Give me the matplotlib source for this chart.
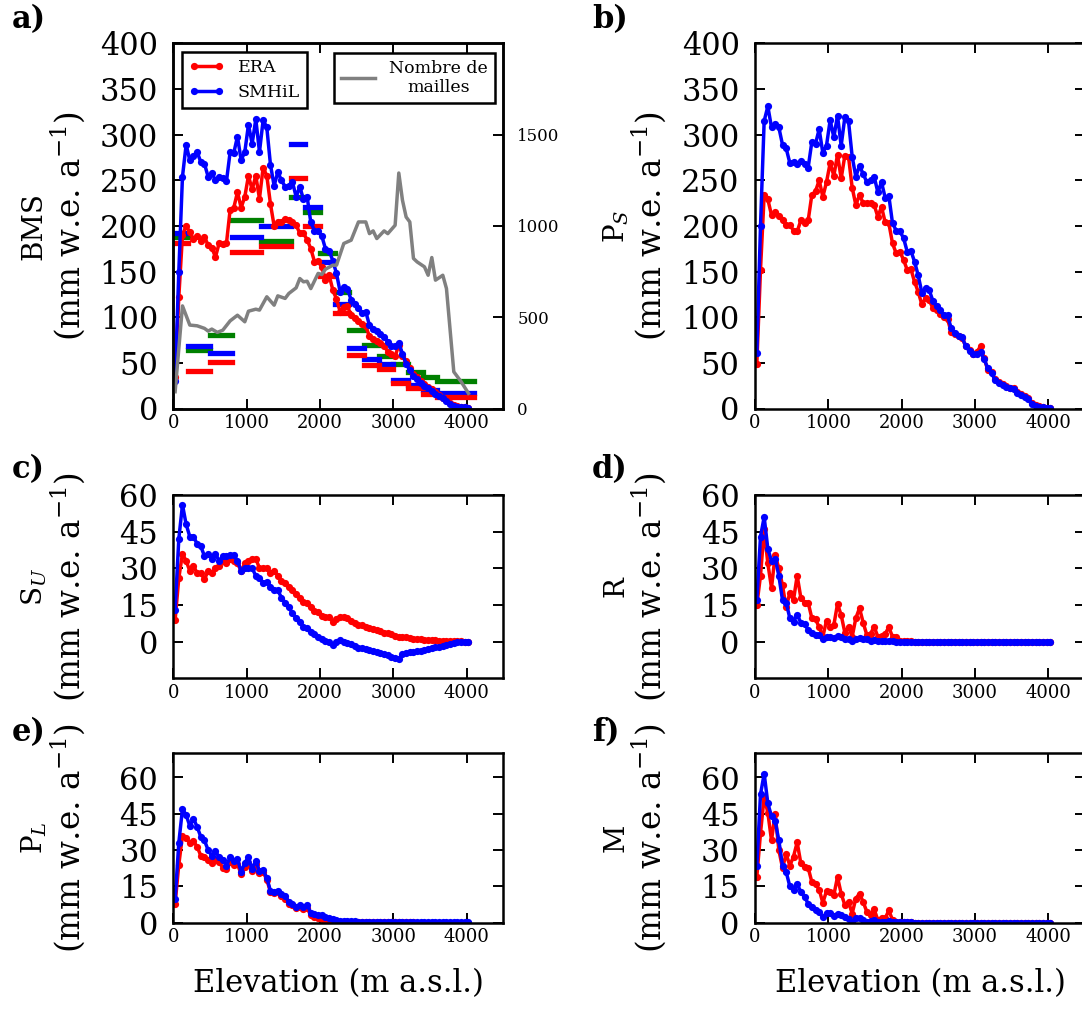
import numpy as np
import matplotlib
matplotlib.use("Agg")
import matplotlib.pyplot as plt

# elevation bin centres (m a.s.l.)
elev = np.arange(25, 4050, 50)

bms_smhil = [30, 150, 254, 289, 272, 277, 281, 270, 268, 254,
             258, 250, 254, 253, 249, 281, 280, 298, 272, 281,
             311, 290, 317, 281, 316, 308, 267, 244, 259, 250,
             243, 244, 248, 232, 243, 229, 232, 204, 195, 194,
             189, 175, 173, 162, 148, 128, 133, 131, 119, 114,
             110, 105, 106, 91, 87, 85, 82, 78, 73, 69,
             68, 72, 60, 49, 42, 36, 32, 28, 25, 23,
             19, 16, 14, 11, 8, 5, 3, 2, 2, 1.5, 1]
bms_era = [34, 122, 190, 200, 193, 186, 189, 184, 188, 179,
           176, 166, 181, 180, 181, 218, 220, 237, 220, 232,
           255, 240, 255, 230, 264, 255, 224, 200, 204, 204,
           208, 207, 204, 201, 192, 192, 185, 175, 161, 162,
           155, 141, 146, 130, 120, 106, 111, 112, 102, 99,
           96, 93, 90, 79, 76, 74, 72, 69, 62, 60,
           57, 70, 58, 52, 44, 38, 34, 30, 27, 24,
           21, 18, 15, 12, 9, 6, 4, 3, 2, 1.5, 1]

ps_smhil = [61, 200, 315, 331, 308, 312, 308, 289, 285, 269,
            270, 268, 271, 268, 264, 292, 290, 306, 280, 288,
            316, 297, 321, 288, 319, 315, 276, 254, 266, 257,
            248, 250, 254, 237, 248, 231, 233, 203, 195, 194,
            187, 172, 173, 161, 146, 127, 132, 130, 118, 112,
            108, 102, 102, 88, 83, 79, 78, 68, 63, 60,
            60, 62, 54, 44, 39, 31, 28, 26, 24, 22,
            21, 17, 15, 13, 10, 5, 3, 2, 1.5, 1, 0.5]
ps_era = [49, 152, 234, 229, 212, 215, 211, 206, 201, 201,
          195, 194, 206, 203, 206, 234, 238, 250, 232, 248,
          269, 255, 278, 252, 277, 276, 242, 223, 234, 225,
          225, 225, 223, 210, 221, 204, 203, 181, 170, 172,
          163, 152, 153, 139, 128, 114, 121, 119, 110, 108,
          104, 100, 98, 84, 82, 79, 77, 68, 64, 60,
          62, 68, 55, 42, 40, 32, 29, 27, 25, 23,
          22, 18, 16, 14, 11, 6, 4, 2.5, 2, 1, 0.5]

su_smhil = [13, 42, 56, 48, 43, 43, 40, 39, 35, 36,
            34, 36, 33, 35, 35, 35.5, 35.5, 33, 29, 30,
            30, 30, 27, 26, 24, 24.5, 22.5, 21, 21, 18,
            16, 14, 11.6, 9.6, 8.2, 6.1, 5.5, 4.1, 3.2, 2,
            1, 0.4, 0, -1.4, 0, 0.7, 0, -0.4, -0.9, -1.8,
            -2.4, -2.8, -3.1, -3.4, -3.8, -4.2, -4.8, -5.2, -5.6, -6.1,
            -6.5, -7, -5, -4.5, -4.2, -4.3, -4, -3.8, -3.4, -3.1,
            -2.7, -2.3, -2, -1.6, -1.4, -1, -0.4, -0.3, -0.1, -0.1, 0]
su_era = [9, 26, 36, 33, 29, 31, 28, 28, 25.5, 29,
          28, 30, 31, 33, 32, 34, 33, 32, 29, 32,
          33, 34, 34, 30, 30, 30, 28, 29, 27, 25,
          24, 22.5, 21, 19.5, 18, 16.4, 15.7, 14, 12.7, 12,
          10.5, 10.2, 10, 8.2, 9.2, 10, 10, 9.6, 8.6, 7.8,
          6.8, 6.8, 6.1, 5.7, 5.1, 4.8, 4.4, 3.7, 3.4, 3,
          2.5, 2, 2, 1.8, 1.4, 1.1, 1, 1, 0.7, 0.7,
          0.7, 0.6, 0.4, 0.4, 0.3, 0.3, 0.2, 0.1, 0.1, 0, 0]

r_smhil = [17, 43, 51, 38, 33, 34, 27, 17, 16, 9.6,
           8.2, 11, 7.8, 7.2, 4.8, 3.7, 2.7, 2.7, 1, 2,
           2, 1.4, 2.5, 2, 1.1, 1, 0.1, 1, 1.4, 1.1,
           1, 0.3, 0.7, 0.1, 0.4, 0.4, 0.4, 0.1, 0, 0,
           0, 0, 0, 0, 0, 0, 0, 0, 0, 0,
           0, 0, 0, 0, 0, 0, 0, 0, 0, 0,
           0, 0, 0, 0, 0, 0, 0, 0, 0, 0,
           0, 0, 0, 0, 0, 0, 0, 0, 0, 0, 0]
r_era = [15, 27, 46, 32, 22, 35.5, 30, 23, 14, 20,
         17, 27, 18, 16, 16, 9.6, 9.2, 5.9, 2, 8.6,
         6.1, 6.8, 15.4, 10.9, 3.7, 6.1, 2, 9.6, 13.7, 7.8,
         2.7, 3.2, 6.1, 2, 2.3, 3.2, 5.9, 2, 1.8, 0.4,
         0.2, 0.1, 0.1, 0, 0, 0, 0, 0, 0, 0,
         0, 0, 0, 0, 0, 0, 0, 0, 0, 0,
         0, 0, 0, 0, 0, 0, 0, 0, 0, 0,
         0, 0, 0, 0, 0, 0, 0, 0, 0, 0, 0]

pl_smhil = [9.6, 33, 47, 44.5, 40, 43, 39.6, 35.5, 34, 30,
            27.7, 29.5, 27, 26, 23.6, 27, 25.4, 26.4, 21, 24.6,
            27.3, 22, 25.7, 21.3, 21.6, 18.6, 13.1, 12.7, 13.1, 11.8,
            10.9, 8.6, 7.9, 6.6, 7.3, 6.6, 7.3, 4.1, 3.6, 3.2,
            3.2, 2.2, 1.8, 1.4, 1.1, 0.8, 0.8, 0.6, 0.5, 0.5,
            0.4, 0.4, 0.4, 0.3, 0.3, 0.3, 0.3, 0.3, 0.3, 0.2,
            0.2, 0.2, 0.2, 0.2, 0.2, 0.2, 0.2, 0.2, 0.2, 0.2,
            0.2, 0.2, 0.2, 0.2, 0.2, 0.2, 0.2, 0.2, 0.2, 0.2, 0.2]
pl_era = [7.9, 24, 36, 35, 33, 33.6, 31.4, 27.7, 27, 26,
          24.6, 26, 25, 22.7, 22.3, 25, 24, 24.3, 20, 23.2,
          24.6, 21.3, 24.3, 20.5, 20.9, 17.8, 12.7, 12.3, 12.7, 10.9,
          10, 7.9, 7.3, 5.9, 6.6, 5.5, 5.9, 3.2, 2.5, 1.8,
          1.4, 1.1, 0.4, 0.3, 0.3, 0.2, 0.2, 0.2, 0.1, 0.1,
          0.1, 0.1, 0.1, 0.1, 0.1, 0.1, 0.1, 0.1, 0.1, 0.1,
          0.1, 0.1, 0.1, 0.1, 0.1, 0.1, 0, 0, 0, 0,
          0, 0, 0, 0, 0, 0, 0, 0, 0, 0, 0]

m_smhil = [23.6, 53, 61.6, 49.3, 44, 42, 34, 23.6, 21, 15,
           13.7, 16, 12.7, 10.7, 7.9, 6.6, 5.2, 4.5, 2.2, 4.1,
           4.1, 2.7, 3.8, 3.2, 2.2, 1.4, 0.4, 1.8, 1.8, 1.1,
           0.4, 0.8, 1.1, 0.4, 0.4, 0.4, 0.6, 0.3, 0.1, 0.1,
           0.1, 0.1, 0.1, 0, 0, 0, 0, 0, 0, 0,
           0, 0, 0, 0, 0, 0, 0, 0, 0, 0,
           0, 0, 0, 0, 0, 0, 0, 0, 0, 0,
           0, 0, 0, 0, 0, 0, 0, 0, 0, 0, 0]
m_era = [19, 37, 52, 45.5, 34, 45, 30, 22.7, 28.4, 23.6,
         27.3, 33.2, 24.6, 23.2, 22.7, 16.8, 15.9, 13.7, 8.2, 13.1,
         12.7, 11.4, 18.9, 12, 7.3, 8.6, 3.8, 10, 12, 8.6,
         4.5, 3.2, 5.5, 1.1, 1.8, 1.8, 5.1, 1.1, 0.4, 0.2,
         0.1, 0.1, 0.1, 0, 0, 0, 0, 0, 0, 0,
         0, 0, 0, 0, 0, 0, 0, 0, 0, 0,
         0, 0, 0, 0, 0, 0, 0, 0, 0, 0,
         0, 0, 0, 0, 0, 0, 0, 0, 0, 0, 0]

# number of grid cells per band (right axis of panel a)
cells_elev = [25, 125, 225, 325, 425, 475, 525, 600, 675, 775,
              875, 975, 1025, 1125, 1175, 1275, 1375, 1425, 1525, 1575,
              1675, 1725, 1775, 1825, 1875, 1975, 2025, 2075, 2175, 2225,
              2325, 2425, 2525, 2625, 2675, 2725, 2775, 2875, 2925, 3025,
              3075, 3125, 3175, 3225, 3275, 3325, 3425, 3475, 3525, 3575,
              3675, 3725, 3825, 3925, 4025]
cells = [92, 562, 457, 453, 439, 424, 435, 417, 429, 480,
         511, 475, 533, 544, 539, 612, 566, 617, 603, 630,
         661, 712, 694, 697, 657, 740, 734, 763, 785, 785,
         904, 922, 1022, 1022, 958, 973, 931, 973, 958, 1004,
         1290, 1141, 1049, 1022, 822, 803, 776, 730, 827, 703,
         730, 657, 201, 147, 83]

# band-averaged balances (horizontal bars in panel a)
band_lo = [0, 200, 500, 800, 1200, 1600, 1800, 2000, 2200, 2400, 2600, 2800, 3000, 3200, 3400, 3600]
band_hi = [200, 500, 800, 1200, 1600, 1800, 2000, 2200, 2400, 2600, 2800, 3000, 3200, 3400, 3600, 4100]
band_era = [181, 41, 51, 171, 178, 253, 200, 145, 105, 58.5, 47.6, 43, 27.5, 23, 15.5, 12.6]
band_smhil = [192, 69, 61, 188, 200, 290, 221, 161, 114, 66, 54, 48.7, 31, 26, 20, 16.6]
band_obs = [188, 64, 80, 207, 183, 232, 215, 170, 128, 85.5, 69.5, 57, 49, 40, 34.5, 30]

plt.rcParams['font.family'] = 'DejaVu Serif'
plt.rcParams['mathtext.fontset'] = 'dejavuserif'
plt.rcParams['xtick.direction'] = 'in'
plt.rcParams['ytick.direction'] = 'in'
plt.rcParams['xtick.top'] = True
plt.rcParams['ytick.right'] = True
plt.rcParams['xtick.major.size'] = 7
plt.rcParams['ytick.major.size'] = 7
plt.rcParams['xtick.major.width'] = 1.4
plt.rcParams['ytick.major.width'] = 1.4
plt.rcParams['axes.linewidth'] = 1.8

W, H = 1082, 1009
fig = plt.figure(figsize=(W / 100, H / 100), dpi=100)


def box(l, t, r, b):
    return [l / W, 1 - b / H, (r - l) / W, (b - t) / H]


ax_a = fig.add_axes(box(173.3, 43.4, 503.3, 408.5))
ax_b = fig.add_axes(box(755, 43.4, 1085, 408.5))
ax_c = fig.add_axes(box(173.3, 495, 503.3, 678.3))
ax_d = fig.add_axes(box(755, 495, 1085, 678.3))
ax_e = fig.add_axes(box(173.3, 753.3, 503.3, 922.7))
ax_f = fig.add_axes(box(755, 753.3, 1085, 922.7))

lkw = dict(lw=2.5, marker='o', ms=5.2, mew=0)

# panel a
for lo, hi, v in zip(band_lo, band_hi, band_obs):
    ax_a.plot([lo, hi], [v, v], color='g', lw=3.8, solid_capstyle='projecting')
for lo, hi, v in zip(band_lo, band_hi, band_smhil):
    ax_a.plot([lo, hi], [v, v], color='b', lw=3.8, solid_capstyle='projecting')
for lo, hi, v in zip(band_lo, band_hi, band_era):
    ax_a.plot([lo, hi], [v, v], color='r', lw=3.8, solid_capstyle='projecting')
l1, = ax_a.plot(elev, bms_era, color='r', label='ERA', **lkw)
l2, = ax_a.plot(elev, bms_smhil, color='b', label='SMHiL', **lkw)
ax_a.set_ylim(0, 400)
ax_a.set_yticks(range(0, 401, 50))
leg1 = ax_a.legend(handles=[l1, l2], loc='upper left', bbox_to_anchor=(0.027, 0.977),
                   borderaxespad=0, numpoints=2, fontsize=12.5, fancybox=False,
                   edgecolor='k', framealpha=1, handlelength=2.0)
leg1.get_frame().set_linewidth(1.8)

ax_a2 = ax_a.twinx()
g, = ax_a2.plot(cells_elev, cells, color='0.5', lw=2.5, label='Nombre de\nmailles')
ax_a2.set_ylim(0, 2000)
ax_a2.set_yticks([0, 500, 1000, 1500])
ax_a2.tick_params(axis='y', labelsize=12, pad=10, direction='in', length=7, width=1.4)
leg2 = ax_a2.legend(handles=[g], loc='upper right', bbox_to_anchor=(0.975, 0.9745),
                    borderaxespad=0, fontsize=12.5, fancybox=False,
                    edgecolor='k', framealpha=1, handlelength=2.0)
leg2.get_frame().set_linewidth(1.8)
for t in leg2.get_texts():
    t.set_multialignment('center')

# panel b
ax_b.plot(elev, ps_era, color='r', **lkw)
ax_b.plot(elev, ps_smhil, color='b', **lkw)
ax_b.set_ylim(0, 400)
ax_b.set_yticks(range(0, 401, 50))

# panels c-f
for ax, era, smh in [(ax_c, su_era, su_smhil), (ax_d, r_era, r_smhil),
                     (ax_e, pl_era, pl_smhil), (ax_f, m_era, m_smhil)]:
    ax.plot(elev, era, color='r', **lkw)
    ax.plot(elev, smh, color='b', **lkw)
    ax.set_yticks([0, 15, 30, 45, 60])
for ax in (ax_c, ax_d):
    ax.set_ylim(-15, 60)
for ax in (ax_e, ax_f):
    ax.set_ylim(0, 70)

for ax in (ax_a, ax_b, ax_c, ax_d, ax_e, ax_f):
    ax.set_xlim(0, 4500)
    ax.set_xticks([0, 1000, 2000, 3000, 4000])
    ax.tick_params(axis='x', labelsize=13, pad=4)
    ax.tick_params(axis='y', labelsize=22, pad=11)
ax_a.tick_params(axis='y', right=False)

# two-line y labels: variable name + unit
ylabels = [(ax_a, 'BMS'), (ax_b, 'P$_S$'), (ax_c, 'S$_U$'),
           (ax_d, 'R'), (ax_e, 'P$_L$'), (ax_f, 'M')]
for ax, name in ylabels:
    pos = ax.get_position()
    yc = (pos.y0 + pos.y1) / 2
    fig.text(pos.x0 - 139 / W, yc, name, rotation=90, ha='center', va='center',
             fontsize=20)
    fig.text(pos.x0 - 106 / W, yc, '(mm w.e. a$^{-1}$)', rotation=90,
             ha='center', va='center', fontsize=23.5)

for ax in (ax_e, ax_f):
    ax.set_xlabel('Elevation (m a.s.l.)', fontsize=22, labelpad=16)

panel_tags = [('a)', 12, 20), ('b)', 592, 20), ('c)', 12, 470),
              ('d)', 592, 470), ('e)', 12, 733), ('f)', 592, 733)]
for tag, px, py in panel_tags:
    fig.text(px / W, 1 - py / H, tag, fontsize=22, fontweight='bold',
             ha='left', va='center')

fig.savefig('out.png', dpi=100)
